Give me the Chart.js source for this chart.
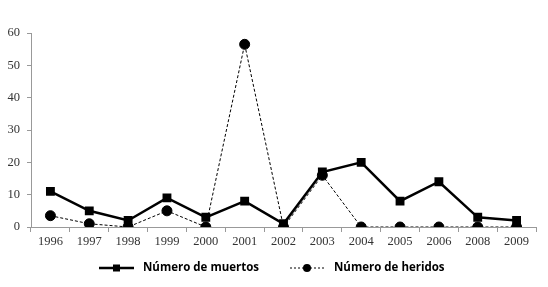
<!DOCTYPE html>
<html>
<head>
<meta charset="utf-8">
<script src="https://cdn.jsdelivr.net/npm/chart.js@4/dist/chart.umd.min.js"></script>
<style>
  html, body { margin: 0; padding: 0; background: #fff; }
  #wrap { width: 548px; height: 287px; position: relative; }
</style>
</head>
<body>
<div id="wrap"><canvas id="chart"></canvas></div>
<script>
// Datos
const years = ['1996', '1997', '1998', '1999', '2000', '2001', '2002', '2003', '2004', '2005', '2006', '2008', '2009'];
const muertos = [11, 5, 2, 9, 3, 8, 1, 17, 20, 8, 14, 3, 2];
const heridos = [3.5, 1, 0, 5, 0, 56.5, 0, 16, 0, 0, 0, 0, 0];
const seriesNames = ['Número de muertos', 'Número de heridos'];

// Leyenda dibujada a mano: línea + marcador + texto
const legendPlugin = {
    id: 'lineLegend',
    afterDraw(chart) {
        const ctx = chart.ctx;
        const y = 268;
        const items = [
            { x: 99, name: seriesNames[0], dash: [], width: 2.5, style: 'rect' },
            { x: 290, name: seriesNames[1], dash: [2, 2], width: 1, style: 'circle' }
        ];
        ctx.save();
        items.forEach(it => {
            ctx.strokeStyle = '#000';
            ctx.lineWidth = it.width;
            ctx.setLineDash(it.dash);
            ctx.beginPath();
            ctx.moveTo(it.x, y);
            ctx.lineTo(it.x + 35, y);
            ctx.stroke();
            ctx.setLineDash([]);
            ctx.fillStyle = '#000';
            if (it.style === 'rect') {
                ctx.fillRect(it.x + 14, y - 3.5, 7, 7);
            } else {
                ctx.beginPath();
                ctx.arc(it.x + 17, y, 4, 0, Math.PI * 2);
                ctx.fill();
            }
            ctx.font = 'bold 11.5px "Open Sans", "Liberation Sans", sans-serif';
            ctx.textBaseline = 'middle';
            ctx.textAlign = 'left';
            ctx.fillText(it.name, it.x + 44, y);
        });
        ctx.restore();
    }
};

const tickFont = { family: '"Liberation Serif", "DejaVu Serif", serif', size: 12.5 };

new Chart(document.getElementById('chart'), {
    type: 'line',
    data: {
        labels: years,
        datasets: [{
            label: seriesNames[0],
            data: muertos,
            borderColor: '#000',
            backgroundColor: '#000',
            borderWidth: 2.5,
            pointStyle: 'rect',
            pointRadius: 4.5,
            pointHoverRadius: 4.5,
            tension: 0
        }, {
            label: seriesNames[1],
            data: heridos,
            borderColor: '#000',
            backgroundColor: '#000',
            borderWidth: 1,
            borderDash: [3, 2],
            pointStyle: 'circle',
            pointRadius: 5,
            pointHoverRadius: 5,
            tension: 0
        }]
    },
    options: {
        responsive: true,
        maintainAspectRatio: false,
        animation: false,
        layout: { padding: { left: 0, right: 12, top: 33, bottom: 38 } },
        plugins: {
            legend: { display: false },
            tooltip: { enabled: false }
        },
        scales: {
            x: {
                offset: true,
                grid: {
                    offset: true,
                    drawOnChartArea: false,
                    drawTicks: true,
                    tickLength: 5,
                    color: '#999'
                },
                border: { color: '#999', width: 1 },
                ticks: { color: '#333', font: tickFont, padding: 2, maxRotation: 0, autoSkip: false },
                afterFit(scale) { scale.height = 22; }
            },
            y: {
                min: 0,
                max: 60,
                grid: { drawOnChartArea: false, drawTicks: true, tickLength: 4, color: '#999' },
                border: { color: '#999', width: 1 },
                ticks: { stepSize: 10, color: '#333', font: tickFont, padding: 7 },
                afterFit(scale) { scale.width = 31; }
            }
        }
    },
    plugins: [legendPlugin]
});
</script>
</body>
</html>
